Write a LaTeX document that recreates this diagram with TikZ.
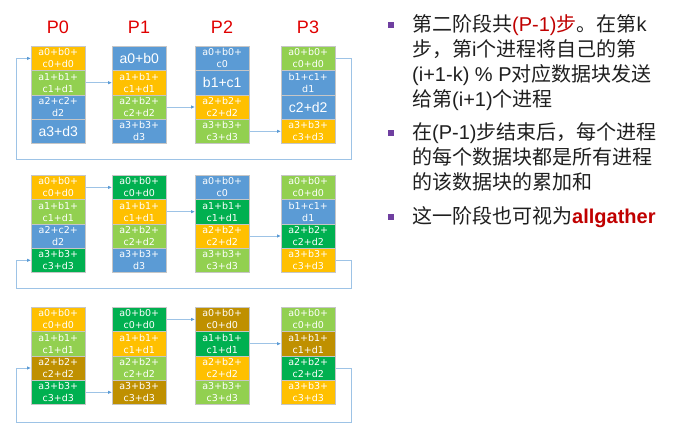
\documentclass[tikz,border=0pt]{standalone}
\usepackage{fontspec}
\setmainfont{Liberation Sans}
\newfontfamily\cjk{Noto Sans CJK SC}
\newfontfamily\cellfont{DejaVu Sans}
\usetikzlibrary{arrows.meta}
\definecolor{cOr}{HTML}{FFC000}
\definecolor{cLg}{HTML}{92D050}
\definecolor{cBl}{HTML}{5B9BD5}
\definecolor{cDg}{HTML}{00B050}
\definecolor{cGd}{HTML}{BF9000}
\definecolor{cLine}{HTML}{9DC3E6}
\definecolor{cHead}{HTML}{5B9BD5}
\definecolor{cRed}{HTML}{E00000}
\definecolor{cDred}{HTML}{C00000}
\definecolor{cBul}{HTML}{6F3FA0}
\newcommand{\C}[1]{{\cjk #1}}
\begin{document}
\begin{tikzpicture}[x=1bp,y=-1bp,
  cell/.style={draw=gray!45, line width=0.5bp, minimum width=54bp, minimum height=24.3bp,
    inner sep=0pt, anchor=north west, text=white, align=center,
    font=\cellfont\fontsize{9.5bp}{12bp}\selectfont},
  big/.style={font=\fontsize{14bp}{16bp}\selectfont},
  ttl/.style={text=cRed, font=\fontsize{18bp}{20bp}\selectfont},
  arr/.style={draw=cLine, line width=0.8bp, -{Latex[length=4bp,width=3.5bp,color=cHead]}},
  txt/.style={align=left, inner sep=0pt, text=black!88, font=\fontsize{20bp}{25bp}\selectfont},
  bul/.style={fill=cBul, minimum size=6.5bp, inner sep=0pt}]
\useasboundingbox (0,0) rectangle (687,434);

% titles
\node[ttl] (P0) at (58,27) {P0};
\node[ttl] (P1) at (139,27) {P1};
\node[ttl] (P2) at (222,27) {P2};
\node[ttl] (P3) at (308,27) {P3};

% ---------- row 1 ----------
\node[cell,fill=cOr] (r1p0c0) at (31,46) {a0+b0+\\c0+d0};
\node[cell,fill=cLg] (r1p0c1) at (31,70.3) {a1+b1+\\c1+d1};
\node[cell,fill=cBl] (r1p0c2) at (31,94.6) {a2+c2+\\d2};
\node[cell,fill=cBl,big] (r1p0c3) at (31,118.9) {a3+d3};

\node[cell,fill=cBl,big] (r1p1c0) at (112,46) {a0+b0};
\node[cell,fill=cOr] (r1p1c1) at (112,70.3) {a1+b1+\\c1+d1};
\node[cell,fill=cLg] (r1p1c2) at (112,94.6) {a2+b2+\\c2+d2};
\node[cell,fill=cBl] (r1p1c3) at (112,118.9) {a3+b3+\\d3};

\node[cell,fill=cBl] (r1p2c0) at (195,46) {a0+b0+\\c0};
\node[cell,fill=cBl,big] (r1p2c1) at (195,70.3) {b1+c1};
\node[cell,fill=cOr] (r1p2c2) at (195,94.6) {a2+b2+\\c2+d2};
\node[cell,fill=cLg] (r1p2c3) at (195,118.9) {a3+b3+\\c3+d3};

\node[cell,fill=cLg] (r1p3c0) at (281,46) {a0+b0+\\c0+d0};
\node[cell,fill=cBl] (r1p3c1) at (281,70.3) {b1+c1+\\d1};
\node[cell,fill=cBl,big] (r1p3c2) at (281,94.6) {c2+d2};
\node[cell,fill=cOr] (r1p3c3) at (281,118.9) {a3+b3+\\c3+d3};

% ---------- row 2 ----------
\node[cell,fill=cOr] (r2p0c0) at (31,175) {a0+b0+\\c0+d0};
\node[cell,fill=cLg] (r2p0c1) at (31,199.3) {a1+b1+\\c1+d1};
\node[cell,fill=cBl] (r2p0c2) at (31,223.6) {a2+c2+\\d2};
\node[cell,fill=cDg] (r2p0c3) at (31,247.9) {a3+b3+\\c3+d3};

\node[cell,fill=cDg] (r2p1c0) at (112,175) {a0+b0+\\c0+d0};
\node[cell,fill=cOr] (r2p1c1) at (112,199.3) {a1+b1+\\c1+d1};
\node[cell,fill=cLg] (r2p1c2) at (112,223.6) {a2+b2+\\c2+d2};
\node[cell,fill=cBl] (r2p1c3) at (112,247.9) {a3+b3+\\d3};

\node[cell,fill=cBl] (r2p2c0) at (195,175) {a0+b0+\\c0};
\node[cell,fill=cDg] (r2p2c1) at (195,199.3) {a1+b1+\\c1+d1};
\node[cell,fill=cOr] (r2p2c2) at (195,223.6) {a2+b2+\\c2+d2};
\node[cell,fill=cLg] (r2p2c3) at (195,247.9) {a3+b3+\\c3+d3};

\node[cell,fill=cLg] (r2p3c0) at (281,175) {a0+b0+\\c0+d0};
\node[cell,fill=cBl] (r2p3c1) at (281,199.3) {b1+c1+\\d1};
\node[cell,fill=cDg] (r2p3c2) at (281,223.6) {a2+b2+\\c2+d2};
\node[cell,fill=cOr] (r2p3c3) at (281,247.9) {a3+b3+\\c3+d3};

% ---------- row 3 ----------
\node[cell,fill=cOr] (r3p0c0) at (31,307) {a0+b0+\\c0+d0};
\node[cell,fill=cLg] (r3p0c1) at (31,331.3) {a1+b1+\\c1+d1};
\node[cell,fill=cGd] (r3p0c2) at (31,355.6) {a2+b2+\\c2+d2};
\node[cell,fill=cDg] (r3p0c3) at (31,379.9) {a3+b3+\\c3+d3};

\node[cell,fill=cDg] (r3p1c0) at (112,307) {a0+b0+\\c0+d0};
\node[cell,fill=cOr] (r3p1c1) at (112,331.3) {a1+b1+\\c1+d1};
\node[cell,fill=cLg] (r3p1c2) at (112,355.6) {a2+b2+\\c2+d2};
\node[cell,fill=cGd] (r3p1c3) at (112,379.9) {a3+b3+\\c3+d3};

\node[cell,fill=cGd] (r3p2c0) at (195,307) {a0+b0+\\c0+d0};
\node[cell,fill=cDg] (r3p2c1) at (195,331.3) {a1+b1+\\c1+d1};
\node[cell,fill=cOr] (r3p2c2) at (195,355.6) {a2+b2+\\c2+d2};
\node[cell,fill=cLg] (r3p2c3) at (195,379.9) {a3+b3+\\c3+d3};

\node[cell,fill=cLg] (r3p3c0) at (281,307) {a0+b0+\\c0+d0};
\node[cell,fill=cGd] (r3p3c1) at (281,331.3) {a1+b1+\\c1+d1};
\node[cell,fill=cDg] (r3p3c2) at (281,355.6) {a2+b2+\\c2+d2};
\node[cell,fill=cOr] (r3p3c3) at (281,379.9) {a3+b3+\\c3+d3};

% ---------- connectors ----------
\coordinate (l1R) at (351,159); \coordinate (l1L) at (16,159);
\coordinate (l2R) at (351,288); \coordinate (l2L) at (16,288);
\coordinate (l3R) at (351,422); \coordinate (l3L) at (16,422);

\draw[arr] (r1p0c1.east) -- (r1p1c1.west);
\draw[arr] (r1p1c2.east) -- (r1p2c2.west);
\draw[arr] (r1p2c3.east) -- (r1p3c3.west);
\draw[arr] (r1p3c0.east) -| (l1R) -- (l1L) |- (r1p0c0.west);

\draw[arr] (r2p0c0.east) -- (r2p1c0.west);
\draw[arr] (r2p1c1.east) -- (r2p2c1.west);
\draw[arr] (r2p2c2.east) -- (r2p3c2.west);
\draw[arr] (r2p3c3.east) -| (l2R) -- (l2L) |- (r2p0c3.west);

\draw[arr] (r3p0c3.east) -- (r3p1c3.west);
\draw[arr] (r3p1c0.east) -- (r3p2c0.west);
\draw[arr] (r3p2c1.east) -- (r3p3c1.west);
\draw[arr] (r3p3c2.east) -| (l3R) -- (l3L) |- (r3p0c2.west);

% ---------- right text ----------
\node[bul] (b1) at (391,25) {};
\node[bul] (b2) at (391,133) {};
\node[bul] (b3) at (391,217) {};

% anchor = baseline of the last line
\node[txt,anchor=base west] (t1) at (412,107)
  {\C{第二阶段共}{\color{cDred}(P-1)\C{步}}\C{。在第}k\\
   \C{步，第}i\C{个进程将自己的第}\\
   (i+1-k) \% P\C{对应数据块发送}\\
   \C{给第}(i+1)\C{个进程}};
\node[txt,anchor=base west] (t2) at (412,190)
  {\C{在}(P-1)\C{步结束后，每个进程}\\
   \C{的每个数据块都是所有进程}\\
   \C{的该数据块的累加和}};
\node[txt,anchor=base west] (t3) at (412,224)
  {\C{这一阶段也可视为}{\color{cDred}\bfseries allgather}};
\end{tikzpicture}
\end{document}
